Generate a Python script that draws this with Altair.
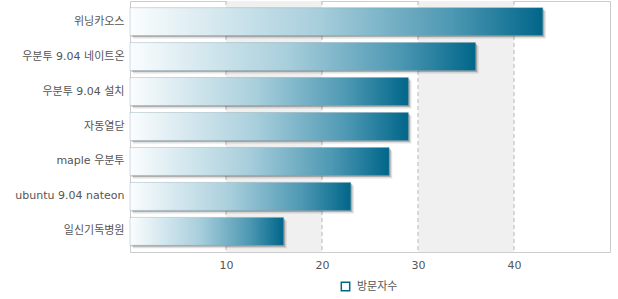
import altair as alt
import pandas as pd

categories = ["위닝카오스", "우분투 9.04 네이트온", "우분투 9.04 설치", "자동열닫",
              "maple 우분투", "ubuntu 9.04 nateon", "일신기독병원"]
values = [43, 36, 29, 29, 27, 23, 16]
series_name = "방문자수"
band_starts = [10, 30]
band_ends = [20, 40]
tick_values = [10, 20, 30, 40]

df = pd.DataFrame({"cat": categories, "val": values, "series": series_name})
bands = pd.DataFrame({"start": band_starts, "end": band_ends})
grid_df = pd.DataFrame({"v": tick_values})

xscale = alt.Scale(domain=[0, 50], nice=False, zero=True)
yscale = alt.Scale(domain=categories, paddingInner=0.2, paddingOuter=0.19)

FONT = "DejaVu Sans, Noto Sans CJK KR"

band_layer = alt.Chart(bands).mark_rect(color="#f0f0f0").encode(
    x=alt.X("start:Q", scale=xscale,
            axis=alt.Axis(values=tick_values, grid=False,
                          ticks=False, domain=False, labelColor="#555555", labelFontSize=11,
                          labelFont=FONT, labelPadding=7, title=None)),
    x2="end:Q",
    y=alt.value(0),
    y2=alt.value(251),
)

grid_layer = alt.Chart(grid_df).mark_rule(color="#b8b8b8", strokeDash=[4, 3], strokeWidth=1).encode(
    x=alt.X("v:Q", scale=xscale),
    y=alt.value(0),
    y2=alt.value(251),
)

base = alt.Chart(df)

y_enc = alt.Y("cat:N", scale=yscale, sort=categories,
              axis=alt.Axis(title=None, ticks=False, domain=False, labelColor="#555555",
                            labelFontSize=11, labelFont=FONT, labelPadding=6, labelLimit=200))

shadow1 = base.mark_bar(color="#000000", opacity=0.12, xOffset=3, x2Offset=3,
                        yOffset=3, y2Offset=3).encode(
    x=alt.X("val:Q", scale=xscale), y=y_enc)
shadow2 = base.mark_bar(color="#000000", opacity=0.22, xOffset=1.5, x2Offset=1.5,
                        yOffset=1.5, y2Offset=1.5).encode(
    x=alt.X("val:Q", scale=xscale), y=y_enc)

grad = alt.Gradient(
    gradient="linear",
    stops=[alt.GradientStop(color="#fbfdfe", offset=0),
           alt.GradientStop(color="#a9cfdc", offset=0.45),
           alt.GradientStop(color="#4d98b3", offset=0.78),
           alt.GradientStop(color="#00668a", offset=1)],
    x1=0, x2=1, y1=0, y2=0,
)

bars = base.mark_bar(color=grad, stroke="#7a9aa8", strokeWidth=0.6, strokeOpacity=0.6).encode(
    x=alt.X("val:Q", scale=xscale),
    y=y_enc,
)

legend_layer = base.mark_point(size=0, filled=False).encode(
    x=alt.X("val:Q", scale=xscale),
    y=y_enc,
    stroke=alt.Stroke("series:N", scale=alt.Scale(range=["#00668a"]),
                      legend=alt.Legend(orient="none", legendX=210, legendY=280, title=None,
                                        symbolType="square", symbolSize=70,
                                        symbolStrokeWidth=1.5, symbolFillColor="white",
                                        symbolOpacity=1,
                                        labelColor="#555555", labelFontSize=11,
                                        labelFont=FONT, labelOffset=6)),
)

chart = alt.layer(band_layer, grid_layer, shadow1, shadow2, bars, legend_layer).properties(
    width=480, height=251,
    autosize=alt.AutoSizeParams(type="none"),
    padding={"left": 130, "top": 1, "right": 8, "bottom": 47},
    background="white",
).configure_view(stroke="#cccccc", strokeWidth=1)

chart.save("out.html", embed_options={"renderer": "svg", "actions": False})
